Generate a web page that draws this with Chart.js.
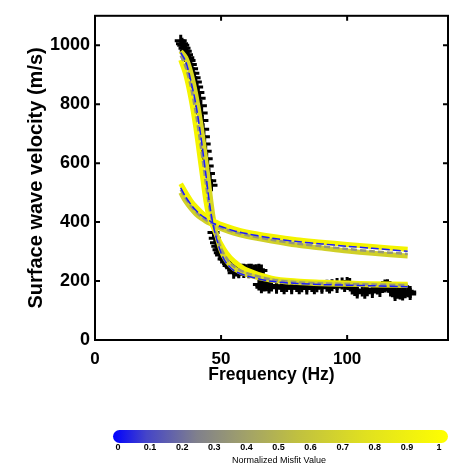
<!DOCTYPE html>
<html lang="en">
<head>
<meta charset="UTF-8">
<title>Surface wave dispersion</title>
<style>
  body { margin: 0; background: #fff; }
  #wrap { width: 457px; height: 469px; }
</style>
<script src="https://cdn.jsdelivr.net/npm/chart.js"></script>
</head>
<body>
<div id="wrap"><canvas id="dispChart" width="457" height="469"></canvas></div>
<script>
// observed dispersion picks (black crosses)
const obsFreq = [34, 34.5, 35, 35.5, 36, 36.5, 37, 37.5, 38, 38.5, 39, 39.5, 40, 40.5, 41, 41.5, 42, 42.3, 42.6, 42.9, 43.2, 43.5, 43.9, 44.3, 44.7, 45.2, 45.7, 46.2,
  47, 47.5, 48, 48.5, 49, 49.5, 50, 51, 52, 53, 54, 55, 56, 57, 58, 59, 60, 61, 62, 63, 64, 65, 66,
  55, 57, 59, 61, 63, 65,
  65, 66, 67, 68, 70, 72, 74, 76, 78, 80, 82, 84, 86, 88, 90, 92, 94, 96, 98, 100, 101,
  66, 69, 72, 75, 78, 81, 84, 87, 90, 93, 96, 99,
  102, 103, 104, 106, 108, 110, 112, 114, 115, 116, 117, 118, 119, 120, 121, 122, 123, 124, 125,
  104, 107, 110, 113, 119, 122, 125];
const obsVel = [1015, 1005, 1000, 990, 980, 968, 958, 948, 935, 920, 905, 890, 875, 858, 840, 820, 795, 770, 745, 715, 690, 665, 640, 615, 590, 565, 540, 525,
  365, 345, 330, 318, 306, 296, 288, 275, 265, 253, 245, 240, 236, 233, 238, 238, 237, 238, 238, 236, 237, 238, 236,
  228, 230, 231, 230, 231, 230,
  188, 186, 185, 186, 185, 184, 183, 183, 182, 183, 182, 182, 183, 182, 183, 184, 186, 190, 192, 193, 190,
  179, 178, 177, 176, 176, 176, 175, 176, 177, 178, 180, 183,
  175, 170, 168, 168, 169, 172, 175, 180, 185, 186, 180, 165, 160, 160, 158, 160, 162, 165, 163,
  161, 160, 163, 166, 153, 154, 156];

// steep mode: best model and the spread of other models
const modeAFreq    = [34, 36, 38, 40, 42, 44, 45, 46, 47, 48, 50, 52, 55, 60, 70, 80, 90, 100, 110, 124];
const modeABest    = [975, 945, 880, 800, 690, 560, 490, 430, 385, 350, 295, 262, 236, 218, 199, 192, 188, 186, 184, 181];
const modeAYellow1 = [950, 900, 822, 720, 595, 470, 425, 400, 380, 360, 325, 297, 268, 238, 210, 200, 196, 193, 191, 189];
const modeAYellow2 = [980, 958, 908, 832, 732, 608, 538, 468, 408, 364, 304, 270, 243, 223, 203, 195, 191, 189, 187, 185];
const modeAGray    = [965, 925, 860, 770, 655, 530, 470, 420, 390, 358, 310, 280, 250, 228, 205, 196, 192, 190, 188, 186];

// flatter mode
const modeBFreq    = [34, 36, 38, 40, 42, 44, 46, 48, 50, 55, 60, 70, 80, 90, 100, 110, 124];
const modeBBest    = [516, 485, 460, 440, 424, 412, 401, 392, 385, 371, 361, 346, 334, 326, 318, 311, 301];
const modeBYellow1 = [530, 500, 473, 452, 435, 421, 409, 400, 392, 378, 367, 352, 340, 332, 324, 317, 308];
const modeBYellow2 = [500, 470, 447, 428, 414, 403, 394, 386, 378, 363, 352, 336, 322, 312, 302, 294, 285];
const modeBGray    = [510, 480, 455, 435, 419, 407, 397, 389, 381, 367, 356, 340, 327, 318, 309, 301, 292];

const xTicks = [0, 50, 100];
const yTicks = [0, 200, 400, 600, 800, 1000];
const cbarTicks = [0, 0.1, 0.2, 0.3, 0.4, 0.5, 0.6, 0.7, 0.8, 0.9, 1];
const cbarLabels = ['0', '0.1', '0.2', '0.3', '0.4', '0.5', '0.6', '0.7', '0.8', '0.9', '1'];

const pts = (fs, vs) => fs.map((f, i) => ({ x: f, y: vs[i] }));

function curve(fs, vs, color, width, dash, order) {
  return {
    data: pts(fs, vs),
    showLine: true,
    borderColor: color,
    borderWidth: width,
    borderDash: dash,
    pointRadius: 0,
    tension: 0.3,
    order: order
  };
}

// frame with inward ticks on all four sides
const framePlugin = {
  id: 'frame',
  afterDatasetsDraw(chart) {
    const { ctx, chartArea: a, scales } = chart;
    ctx.save();
    ctx.strokeStyle = '#000';
    ctx.lineWidth = 2;
    ctx.strokeRect(a.left, a.top, a.right - a.left, a.bottom - a.top);
    ctx.beginPath();
    xTicks.forEach(v => {
      const px = scales.x.getPixelForValue(v);
      ctx.moveTo(px, a.bottom); ctx.lineTo(px, a.bottom - 5);
      ctx.moveTo(px, a.top); ctx.lineTo(px, a.top + 5);
    });
    yTicks.forEach(v => {
      const py = scales.y.getPixelForValue(v);
      ctx.moveTo(a.left, py); ctx.lineTo(a.left + 5, py);
      ctx.moveTo(a.right, py); ctx.lineTo(a.right - 5, py);
    });
    ctx.stroke();
    ctx.restore();
  }
};

// misfit colorbar under the axes
const colorbarPlugin = {
  id: 'colorbar',
  afterDraw(chart) {
    const ctx = chart.ctx;
    const x0 = 113, x1 = 448, y0 = 430, h = 13;
    const g = ctx.createLinearGradient(x0, 0, x1, 0);
    g.addColorStop(0, '#0000ff');
    g.addColorStop(0.1, '#4545c8');
    g.addColorStop(0.25, '#80808c');
    g.addColorStop(0.4, '#a2a268');
    g.addColorStop(0.55, '#c0c040');
    g.addColorStop(0.75, '#e0e020');
    g.addColorStop(1, '#ffff00');
    ctx.save();
    ctx.fillStyle = g;
    ctx.beginPath();
    ctx.roundRect(x0, y0, x1 - x0, h, h / 2);
    ctx.fill();
    ctx.fillStyle = '#000';
    ctx.font = 'bold 9px "Liberation Sans"';
    ctx.textAlign = 'center';
    ctx.textBaseline = 'middle';
    const l0 = 118, l1 = 439;
    cbarTicks.forEach((t, i) => {
      ctx.fillText(cbarLabels[i], l0 + t * (l1 - l0), 448);
    });
    ctx.font = '9px "Liberation Sans"';
    ctx.fillText('Normalized Misfit Value', 279, 461);
    ctx.restore();
  }
};

new Chart(document.getElementById('dispChart'), {
  type: 'scatter',
  data: {
    datasets: [
      {
        data: pts(obsFreq, obsVel),
        pointStyle: 'cross',
        pointRadius: 6,
        borderColor: '#000',
        backgroundColor: '#000',
        borderWidth: 3,
        order: 10
      },
      curve(modeAFreq, modeAYellow1, '#f4f400', 5, [], 8),
      curve(modeBFreq, modeBYellow2, '#d0d028', 5, [], 8),
      curve(modeBFreq, modeBYellow1, '#f4f400', 5, [], 7),
      curve(modeAFreq, modeAYellow2, '#d8d822', 5, [], 7),
      curve(modeAFreq, modeAGray, '#96967a', 2.5, [6, 3], 4),
      curve(modeBFreq, modeBGray, '#96967a', 2.5, [6, 3], 4),
      curve(modeAFreq, modeABest, '#1a1aff', 1.5, [8, 3], 1),
      curve(modeBFreq, modeBBest, '#1a1aff', 1.5, [8, 3], 1)
    ]
  },
  options: {
    responsive: false,
    animation: false,
    devicePixelRatio: 1,
    layout: { padding: { top: 7, right: 5, bottom: 79, left: 0 } },
    plugins: { legend: { display: false }, tooltip: { enabled: false } },
    scales: {
      x: {
        type: 'linear',
        min: 0,
        max: 140,
        afterBuildTicks: s => { s.ticks = xTicks.map(v => ({ value: v })); },
        afterFit: s => { s.height = 50; },
        grid: { display: false, drawTicks: false },
        border: { display: false },
        ticks: {
          font: { family: 'Liberation Sans', weight: 'bold', size: 17 },
          color: '#000', padding: 9, maxRotation: 0, autoSkip: false,
          callback: v => String(v)
        },
        title: {
          display: true,
          text: 'Frequency (Hz)',
          color: '#000',
          font: { family: 'Liberation Sans', weight: 'bold', size: 17.5 },
          padding: { top: 0, bottom: 4 }
        }
      },
      y: {
        type: 'linear',
        min: 0,
        max: 1100,
        afterBuildTicks: s => { s.ticks = yTicks.map(v => ({ value: v })); },
        afterFit: s => { s.width = 95; },
        grid: { display: false, drawTicks: false },
        border: { display: false },
        ticks: {
          font: { family: 'Liberation Sans', weight: 'bold', size: 18 },
          color: '#000', padding: 5, autoSkip: false,
          callback: v => String(v)
        },
        title: {
          display: true,
          text: 'Surface wave velocity (m/s)',
          color: '#000',
          font: { family: 'Liberation Sans', weight: 'bold', size: 20 },
          padding: { top: 24, bottom: 0 }
        }
      }
    }
  },
  plugins: [framePlugin, colorbarPlugin]
});
</script>
</body>
</html>
